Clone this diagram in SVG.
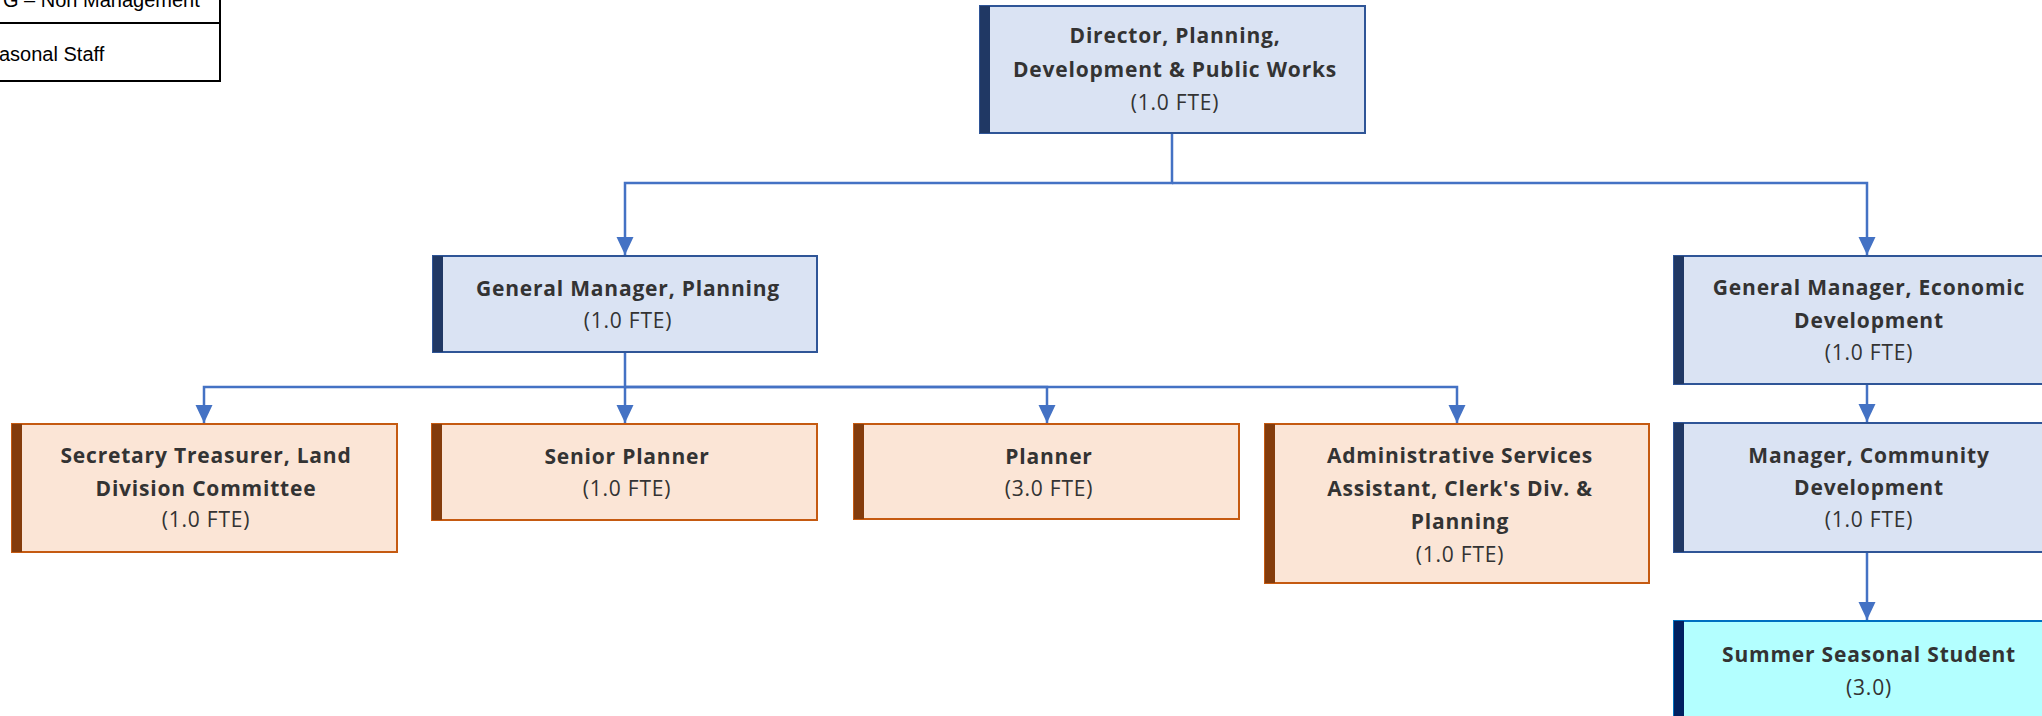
<svg xmlns="http://www.w3.org/2000/svg" width="2042" height="716" viewBox="0 0 2042 716">
<style>
.blue{fill:#DAE3F3;stroke:#2F5597;stroke-width:2}
.bbar{fill:#203864}
.org{fill:#FBE5D6;stroke:#C55A11;stroke-width:2}
.obar{fill:#843C0C}
.cyan{fill:#B3FFFF;stroke:#0070C0;stroke-width:2}
.cbar{fill:#002060}
.t{font-family:"Open Sans","Noto Sans",sans-serif;font-size:21px;fill:#333333;text-anchor:middle;letter-spacing:0.8px}
.b{font-weight:bold}
.conn{fill:none;stroke:#4472C4;stroke-width:2.5}
.leg{fill:none;stroke:#000;stroke-width:2}
.lt{font-family:"Liberation Sans",Arial,sans-serif;font-size:20px;fill:#000}
</style>
<defs>
<marker id="arr" markerUnits="userSpaceOnUse" markerWidth="18" markerHeight="18" refX="18" refY="9" orient="auto">
<path d="M0,0.5 L18,9 L0,17.5 z" fill="#4472C4"/>
</marker>
</defs>
<rect width="2042" height="716" fill="#ffffff"/>
<g id="legend">
<path class="leg" d="M-5,23 H220 M220,-2 V81 H-5"/>
<text class="lt" x="3" y="7">G – Non Management</text>
<text class="lt" x="-1" y="61">asonal Staff</text>
</g>
<g id="connectors">
<path class="conn" d="M1172,133 V183 H625 V255" marker-end="url(#arr)"/>
<path class="conn" d="M1172,183 H1867 V255" marker-end="url(#arr)"/>
<path class="conn" d="M625,352 V387 H204 V423" marker-end="url(#arr)"/>
<path class="conn" d="M625,387 V423" marker-end="url(#arr)"/>
<path class="conn" d="M625,387 H1047 V423" marker-end="url(#arr)"/>
<path class="conn" d="M625,387 H1457 V423" marker-end="url(#arr)"/>
<path class="conn" d="M1867,384 V422" marker-end="url(#arr)"/>
<path class="conn" d="M1867,552 V620" marker-end="url(#arr)"/>
</g>
<g id="director">
<rect class="blue" x="980" y="6" width="385" height="127"/>
<rect class="bbar" x="980" y="6" width="10" height="127"/>
<text class="t b" x="1175" y="43">Director, Planning,</text>
<text class="t b" x="1175" y="77">Development &amp; Public Works</text>
<text class="t" x="1175" y="110">(1.0 FTE)</text>
</g>
<g id="gm-planning">
<rect class="blue" x="433" y="256" width="384" height="96"/>
<rect class="bbar" x="433" y="256" width="10" height="96"/>
<text class="t b" x="628" y="296">General Manager, Planning</text>
<text class="t" x="628" y="328">(1.0 FTE)</text>
</g>
<g id="gm-economic">
<rect class="blue" x="1674" y="256" width="385" height="128"/>
<rect class="bbar" x="1674" y="256" width="10" height="128"/>
<text class="t b" x="1869" y="295">General Manager, Economic</text>
<text class="t b" x="1869" y="328">Development</text>
<text class="t" x="1869" y="360">(1.0 FTE)</text>
</g>
<g id="secretary">
<rect class="org" x="12" y="424" width="385" height="128"/>
<rect class="obar" x="12" y="424" width="10" height="128"/>
<text class="t b" x="206" y="463">Secretary Treasurer, Land</text>
<text class="t b" x="206" y="496">Division Committee</text>
<text class="t" x="206" y="527">(1.0 FTE)</text>
</g>
<g id="senior-planner">
<rect class="org" x="432" y="424" width="385" height="96"/>
<rect class="obar" x="432" y="424" width="10" height="96"/>
<text class="t b" x="627" y="464">Senior Planner</text>
<text class="t" x="627" y="496">(1.0 FTE)</text>
</g>
<g id="planner">
<rect class="org" x="854" y="424" width="385" height="95"/>
<rect class="obar" x="854" y="424" width="10" height="95"/>
<text class="t b" x="1049" y="464">Planner</text>
<text class="t" x="1049" y="496">(3.0 FTE)</text>
</g>
<g id="admin">
<rect class="org" x="1265" y="424" width="384" height="159"/>
<rect class="obar" x="1265" y="424" width="10" height="159"/>
<text class="t b" x="1460" y="463">Administrative Services</text>
<text class="t b" x="1460" y="496">Assistant, Clerk's Div. &amp;</text>
<text class="t b" x="1460" y="529">Planning</text>
<text class="t" x="1460" y="562">(1.0 FTE)</text>
</g>
<g id="manager-community">
<rect class="blue" x="1674" y="423" width="385" height="129"/>
<rect class="bbar" x="1674" y="423" width="10" height="129"/>
<text class="t b" x="1869" y="463">Manager, Community</text>
<text class="t b" x="1869" y="495">Development</text>
<text class="t" x="1869" y="527">(1.0 FTE)</text>
</g>
<g id="summer">
<rect class="cyan" x="1674" y="621" width="385" height="128"/>
<rect class="cbar" x="1674" y="621" width="10" height="128"/>
<text class="t b" x="1869" y="662">Summer Seasonal Student</text>
<text class="t" x="1869" y="695">(3.0)</text>
</g>
</svg>
